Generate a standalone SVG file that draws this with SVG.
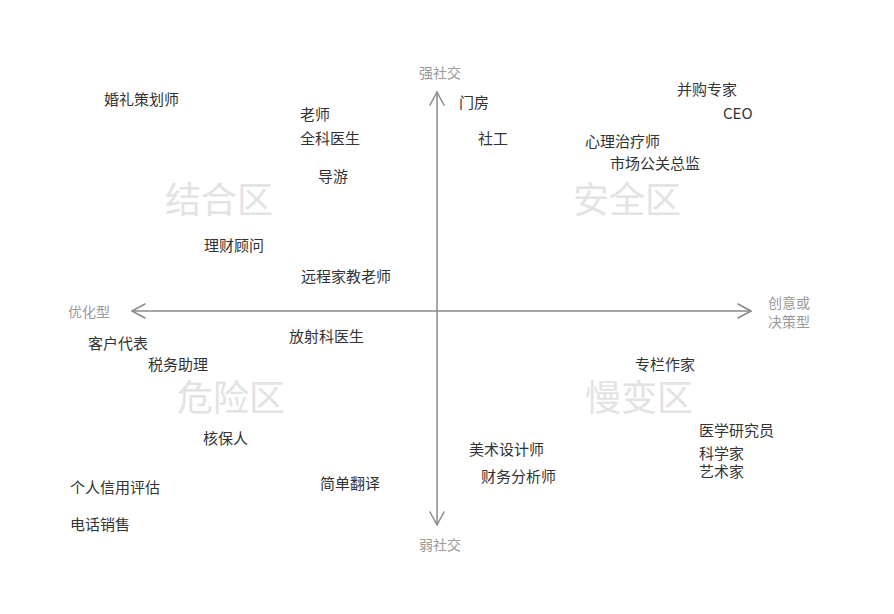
<svg xmlns="http://www.w3.org/2000/svg" width="894" height="614" viewBox="0 0 894 614">
<defs>
<style>
.t{font-family:"Noto Sans CJK SC","Noto Sans",sans-serif;font-size:15px;fill:#333}
.ax{font-family:"Noto Sans CJK SC","Noto Sans",sans-serif;font-size:14px;fill:#9a9a9a}
.zone{font-family:"Noto Sans CJK SC","Noto Sans",sans-serif;font-size:36px;fill:#e3e3e3}
.axis{stroke:#8a8a8a;stroke-width:1.5;fill:none;stroke-linecap:round;stroke-linejoin:round}
</style>
</defs>
<rect width="894" height="614" fill="#ffffff"/>
<g id="connectors">
<path class="axis" d="M437 92 L437 525"/>
<path class="axis" d="M430 105 L437 92 L444 105"/>
<path class="axis" d="M430 512 L437 525 L444 512"/>
<path class="axis" d="M132 311 L751 311"/>
<path class="axis" d="M145 304 L132 311 L145 318"/>
<path class="axis" d="M738 304 L751 311 L738 318"/>
</g>
<g id="axis-labels">
<text class="ax" x="440" y="78" text-anchor="middle">强社交</text>
<text class="ax" x="440" y="550" text-anchor="middle">弱社交</text>
<text class="ax" x="68" y="317">优化型</text>
<text class="ax" x="768" y="308">创意或</text>
<text class="ax" x="768" y="327">决策型</text>
</g>
<g id="zones">
<text class="zone" x="165" y="213">结合区</text>
<text class="zone" x="573" y="213">安全区</text>
<text class="zone" x="177" y="411">危险区</text>
<text class="zone" x="585" y="411">慢变区</text>
</g>
<g id="n-hunli"><text class="t" x="104" y="105">婚礼策划师</text></g>
<g id="n-laoshi"><text class="t" x="300" y="120">老师</text></g>
<g id="n-quanke"><text class="t" x="300" y="144">全科医生</text></g>
<g id="n-daoyou"><text class="t" x="318" y="182">导游</text></g>
<g id="n-licai"><text class="t" x="204" y="251">理财顾问</text></g>
<g id="n-yuancheng"><text class="t" x="301" y="282">远程家教老师</text></g>
<g id="n-menfang"><text class="t" x="459" y="108">门房</text></g>
<g id="n-shegong"><text class="t" x="478" y="144">社工</text></g>
<g id="n-binggou"><text class="t" x="677" y="95">并购专家</text></g>
<g id="n-ceo"><text class="t" x="723" y="119">CEO</text></g>
<g id="n-xinli"><text class="t" x="585" y="147">心理治疗师</text></g>
<g id="n-shichang"><text class="t" x="610" y="169">市场公关总监</text></g>
<g id="n-kehu"><text class="t" x="88" y="349">客户代表</text></g>
<g id="n-shuiwu"><text class="t" x="148" y="370">税务助理</text></g>
<g id="n-fangshe"><text class="t" x="289" y="342">放射科医生</text></g>
<g id="n-hebao"><text class="t" x="203" y="444">核保人</text></g>
<g id="n-xinyong"><text class="t" x="70" y="493">个人信用评估</text></g>
<g id="n-dianhua"><text class="t" x="70" y="530">电话销售</text></g>
<g id="n-fanyi"><text class="t" x="320" y="489">简单翻译</text></g>
<g id="n-zhuanlan"><text class="t" x="635" y="370">专栏作家</text></g>
<g id="n-meishu"><text class="t" x="469" y="455">美术设计师</text></g>
<g id="n-caiwu"><text class="t" x="481" y="482">财务分析师</text></g>
<g id="n-yixue"><text class="t" x="699" y="436">医学研究员</text></g>
<g id="n-kexue"><text class="t" x="699" y="459">科学家</text></g>
<g id="n-yishu"><text class="t" x="699" y="477">艺术家</text></g>
</svg>
